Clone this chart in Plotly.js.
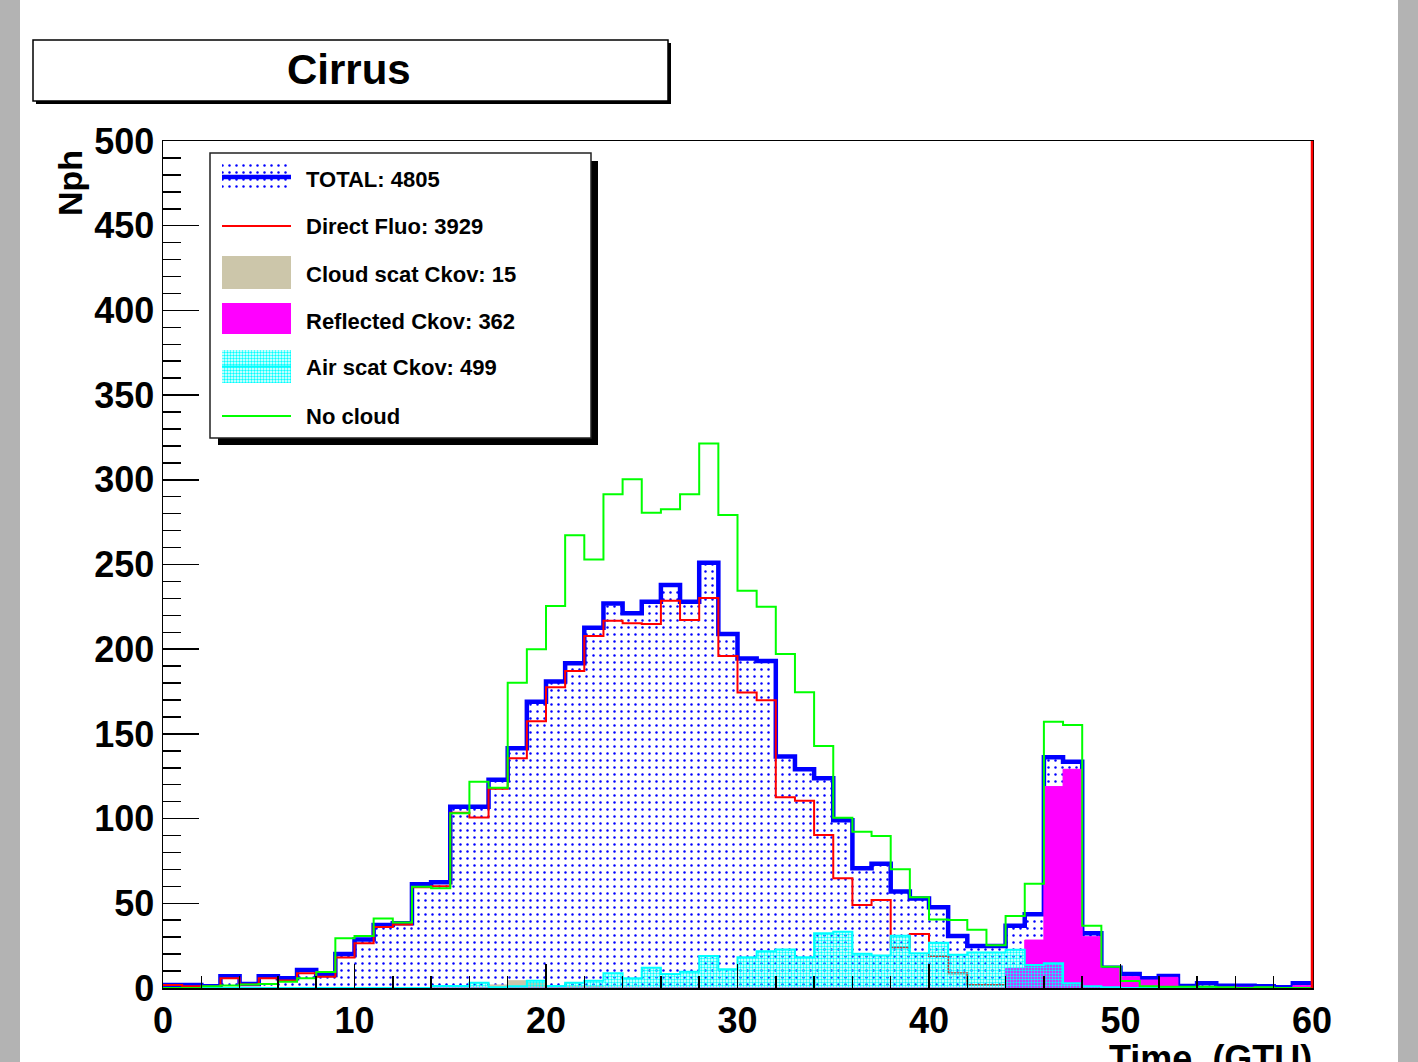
<!DOCTYPE html>
<html><head><meta charset="utf-8">
<script src="https://cdn.plot.ly/plotly-3.0.1.min.js"></script>
<style>html,body{margin:0;padding:0;background:#fff;}</style>
</head><body><div id="chart" style="width:1418px;height:1062px;"></div>
<script>
// Bin edges (GTU), 60 bins of width 1
const binEdges = [0,1,2,3,4,5,6,7,8,9,10,11,12,13,14,15,16,17,18,19,20,21,22,23,24,25,26,27,28,29,30,
  31,32,33,34,35,36,37,38,39,40,41,42,43,44,45,46,47,48,49,50,51,52,53,54,55,56,57,58,59,60];

// Series values per bin (Nph)
const totalVals = [1.8,1.8,1,7,2.4,7,5.7,10.6,7.7,20,
  28.7,37.2,38.2,61.2,62.4,107,107,123,141.5,169,
  181,191.7,212.7,227,221.2,228,237.9,228,251,209,
  194.5,193,136.6,129.1,123.8,99,70.7,73.4,56.9,52.9,
  47.6,30.7,24.8,24.8,36.7,43.5,136.2,133.6,32.3,12,
  8.3,5.7,7.1,1.2,2.8,1.4,1.4,1,0.5,2.8];
const fluoVals = [1.8,1,0.8,5.7,2,5.7,4.5,8.7,6.7,18,
  26.4,36,37.5,59.5,60,103.5,100.7,117.6,135.6,157.5,
  177.5,187.2,207.8,216.8,215.3,214.9,228.6,217.2,230.2,196,
  174.5,169.8,112.6,110.6,90.3,64.8,49,52,24,31.9,
  18.9,8.7,1.8,1.8,1.8,1,2,1.5,1,0.5,
  0,0,0,0,0,0,0,0,0,0];
const cloudVals = [0,0,0,0,0,0,0,0,0,0,
  0,0,0,0,0,0,0.5,1.8,4.3,3,
  1.5,1,1,0.5,0.5,0.3,0.3,0.3,0,0,
  0,0,0,0,0,0,0,0,0,0,
  0,0,0,0,0,0,0,0,0,0,
  0,0,0,0,0,0,0,0,0,0];
const reflVals = [0,0,0,0,0,0,0,0,0,0,
  0,0,0,0,0,0,0,0,0,0,
  0,0,0,0,0,0,0,0,0,0,
  0,0,0,0,0,0,0,0,0,0,
  0,0,0,0,11.6,28.3,118.9,129.1,30.3,11.6,
  6.7,4.7,6.3,0.5,0.5,0.5,0.5,0.5,0.3,1.4];
const airVals = [0,0,0,0,0,0,0,0,0,0,
  0,0,0,0,1.2,1.2,3.1,0.5,1,4.3,
  1.2,3.1,4.3,8.7,5.7,12,8.3,9.6,18.9,11,
  18.1,21.7,22.8,18.1,32.3,33.2,20.2,19.2,30.8,20.5,
  26.7,19.7,21,21,22.6,13.6,14.6,2.8,1,0.5,
  0,0,0,0,0,0,0,0,0,0];
const noCloudVals = [0,0,1,1.5,2,2.4,3.7,5.7,9.5,29.3,
  30.7,41,38.6,59.8,58.9,103.1,121.8,118.2,180.2,200,
  225.5,267.2,253,291.4,300.3,280.6,282.6,291.4,321.5,279.2,
  234.5,225,197.2,174.6,142.9,100.5,92.3,89.7,70.1,53.5,
  40.5,40.1,34.4,25.2,42.5,61.5,157.2,155.3,36.8,12.6,
  4.1,1,0.8,0.8,0.8,0.5,0,0.5,0,0];

const legendLabels = ["TOTAL: 4805","Direct Fluo: 3929","Cloud scat Ckov: 15","Reflected Ckov: 362","Air scat Ckov: 499","No cloud"];
const titleText = "Cirrus";
const xTitle = "Time\u00a0 (GTU)";
const yTitle = "Nph";

// ---- geometry (pixels) ----
const W = 1418, H = 1062;
const L = 163, R = 1312, T = 141, B = 988;
const X = px => (px - L) / (R - L);
const Y = py => (B - py) / (B - T);
const FONT = "Liberation Sans, Arial, Helvetica, sans-serif";

const stepY = v => v.concat([v[v.length - 1]]);

const dotPattern = {shape: '.', fgcolor: '#0000ff', bgcolor: '#ffffff', size: 7, solidity: 0.1, fillmode: 'replace'};
const cyanPattern = {shape: '.', fgcolor: '#00ffff', bgcolor: 'rgba(0,0,0,0)', size: 3, solidity: 0.5, fillmode: 'replace'};

const traces = [
  {x: binEdges, y: stepY(totalVals), mode: 'lines', line: {shape: 'hv', color: '#0000ff', width: 4.5},
   fill: 'tozeroy', fillcolor: '#ffffff', fillpattern: dotPattern, hoverinfo: 'skip'},
  {x: binEdges, y: stepY(fluoVals), mode: 'lines', line: {shape: 'hv', color: '#ff0000', width: 2}, hoverinfo: 'skip'},
  {x: binEdges, y: stepY(cloudVals), mode: 'lines', line: {shape: 'hv', color: '#ccc6aa', width: 1},
   fill: 'tozeroy', fillcolor: '#ccc6aa', hoverinfo: 'skip'},
  {x: binEdges, y: stepY(reflVals), mode: 'lines', line: {shape: 'hv', color: '#ff00ff', width: 1},
   fill: 'tozeroy', fillcolor: '#ff00ff', hoverinfo: 'skip'},
  {x: binEdges, y: stepY(airVals), mode: 'lines', line: {shape: 'hv', color: '#00ffff', width: 2},
   fill: 'tozeroy', fillcolor: 'rgba(0,0,0,0)', fillpattern: cyanPattern, hoverinfo: 'skip'},
  {x: binEdges, y: stepY(noCloudVals), mode: 'lines', line: {shape: 'hv', color: '#00ff00', width: 2}, hoverinfo: 'skip'}
];

// legend symbols drawn on a pixel-coordinate overlay axis pair
const rowY = [179, 226, 274, 321, 368, 416];
const sx0 = 222, sx1 = 291;
const rectTrace = (y0, y1, extra) => Object.assign({
  x: [sx0, sx1, sx1, sx0, sx0], y: [y0, y0, y1, y1, y0], xaxis: 'x2', yaxis: 'y2',
  mode: 'lines', fill: 'toself', line: {width: 0}, hoverinfo: 'skip'}, extra);
const lineTrace = (y, color, width) => ({x: [sx0, sx1], y: [y, y], xaxis: 'x2', yaxis: 'y2',
  mode: 'lines', line: {color: color, width: width}, hoverinfo: 'skip'});
traces.push(rectTrace(162, 192, {fillcolor: '#ffffff', fillpattern: dotPattern}));
traces.push(lineTrace(177, '#0000ff', 4.5));
traces.push(lineTrace(rowY[1], '#ff0000', 2));
traces.push(rectTrace(256, 289, {fillcolor: '#ccc6aa'}));
traces.push(rectTrace(303, 334, {fillcolor: '#ff00ff'}));
traces.push(rectTrace(350, 383, {fillcolor: 'rgba(0,0,0,0)', fillpattern: cyanPattern}));
traces.push(lineTrace(366.5, '#00ffff', 2));
traces.push(lineTrace(rowY[5], '#00ff00', 2));

const shapes = [
  // grey side strips
  {type: 'rect', xref: 'paper', yref: 'paper', x0: X(0), x1: X(20), y0: Y(H), y1: Y(0), fillcolor: '#b3b3b3', line: {width: 0}, layer: 'below'},
  {type: 'rect', xref: 'paper', yref: 'paper', x0: X(1398), x1: X(W), y0: Y(H), y1: Y(0), fillcolor: '#b3b3b3', line: {width: 0}, layer: 'below'},
  // title box with shadow
  {type: 'rect', xref: 'paper', yref: 'paper', x0: X(36), x1: X(671), y0: Y(104), y1: Y(43), fillcolor: '#000000', line: {width: 0}, layer: 'below'},
  {type: 'rect', xref: 'paper', yref: 'paper', x0: X(33), x1: X(668), y0: Y(101), y1: Y(40), fillcolor: '#ffffff', line: {color: '#000000', width: 1.5}, layer: 'below'},
  // legend box with shadow
  {type: 'rect', xref: 'paper', yref: 'paper', x0: X(218), x1: X(598), y0: Y(445), y1: Y(161), fillcolor: '#000000', line: {width: 0}, layer: 'below'},
  {type: 'rect', xref: 'paper', yref: 'paper', x0: X(210), x1: X(591), y0: Y(438), y1: Y(153), fillcolor: '#ffffff', line: {color: '#222222', width: 1.5}, layer: 'below'},
  // red right frame
  {type: 'line', xref: 'paper', yref: 'paper', x0: 1, x1: 1, y0: 0, y1: 1, line: {color: '#ff0000', width: 2.5}, layer: 'above'}
];

const annotations = [
  {text: titleText, xref: 'paper', yref: 'paper', x: X(349), y: Y(70), xanchor: 'center', yanchor: 'middle', showarrow: false,
   font: {family: FONT, size: 42, weight: 'bold', color: '#000'}},
  {text: yTitle, xref: 'paper', yref: 'paper', x: X(70), y: Y(148), xanchor: 'center', yanchor: 'top', textangle: -90, showarrow: false,
   font: {family: FONT, size: 34, weight: 'bold', color: '#000'}},
  {text: xTitle, xref: 'paper', yref: 'paper', x: X(1314), y: Y(1036), xanchor: 'right', yanchor: 'top', showarrow: false,
   font: {family: FONT, size: 36, weight: 'bold', color: '#000'}}
];
legendLabels.forEach((t, i) => annotations.push({text: t, xref: 'paper', yref: 'paper', x: X(304), y: Y(rowY[i]),
  xanchor: 'left', yanchor: 'middle', showarrow: false, font: {family: FONT, size: 22, weight: 'bold', color: '#000'}}));

const tickFont = {family: FONT, size: 36, weight: 'bold', color: '#000'};
const layout = {
  width: W, height: H,
  margin: {l: L, r: W - R, t: T, b: H - B, pad: 0},
  paper_bgcolor: '#ffffff', plot_bgcolor: 'rgba(0,0,0,0)',
  showlegend: false, hovermode: false,
  xaxis: {range: [0, 60], autorange: false, showgrid: false, zeroline: false,
    showline: true, linecolor: '#000', linewidth: 1.5, mirror: true,
    ticks: 'inside', ticklen: 24, tickwidth: 1.5, tickcolor: '#000', tick0: 0, dtick: 10,
    minor: {ticks: 'inside', ticklen: 12, tickwidth: 1.5, tickcolor: '#000', dtick: 2, showgrid: false},
    tickfont: tickFont},
  yaxis: {range: [0, 500], autorange: false, showgrid: false, zeroline: false,
    showline: true, linecolor: '#000', linewidth: 1.5, mirror: true,
    ticks: 'inside', ticklen: 36, tickwidth: 1.5, tickcolor: '#000', tick0: 0, dtick: 50,
    minor: {ticks: 'inside', ticklen: 18, tickwidth: 1.5, tickcolor: '#000', dtick: 10, showgrid: false},
    tickfont: tickFont},
  xaxis2: {overlaying: 'x', anchor: 'y2', range: [L, R], autorange: false, visible: false, showgrid: false, zeroline: false},
  yaxis2: {overlaying: 'y', anchor: 'x2', range: [B, T], autorange: false, visible: false, showgrid: false, zeroline: false},
  shapes: shapes,
  annotations: annotations
};

Plotly.newPlot('chart', traces, layout, {staticPlot: true, displayModeBar: false});
</script>
</body></html>
